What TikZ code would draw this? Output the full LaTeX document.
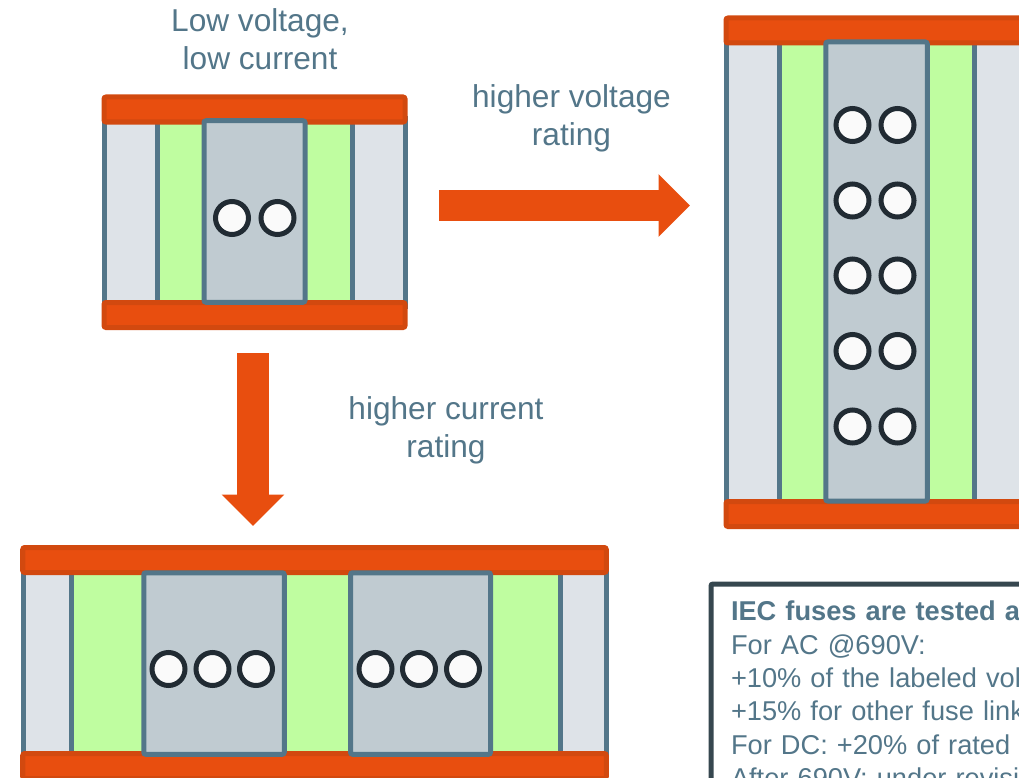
\documentclass[tikz,border=0pt]{standalone}
\usepackage{fontspec}
\setmainfont{Liberation Sans}
\usetikzlibrary{arrows.meta}

\definecolor{capfill}{HTML}{E84E0F}
\definecolor{capline}{HTML}{D2490F}
\definecolor{slate}{HTML}{537689}
\definecolor{sidegrey}{HTML}{DEE3E8}
\definecolor{coregrey}{HTML}{C0CBD1}
\definecolor{sandgreen}{HTML}{BFFDA0}
\definecolor{holeline}{HTML}{212B33}
\definecolor{holefill}{HTML}{FAFAFA}
\definecolor{noteline}{HTML}{36474F}

\begin{document}
\begin{tikzpicture}[
    ratearrow/.style={-{Triangle[length=0.63cm, width=1.22cm]}, line width=0.63cm, capfill},
    label/.style={text=slate, align=center, font=\fontsize{18}{21.6}\selectfont},
    capbar/.style={rectangle, draw=capline, fill=capfill, line width=0.1cm, inner sep=0pt, minimum height=0.5cm, rounded corners=0.04cm},
    sidebox/.style={rectangle, draw=slate, fill=sidegrey, line width=0.1cm, inner sep=0pt, minimum width=1.06cm},
    sandbox/.style={rectangle, fill=sandgreen, inner sep=0pt},
    corebox/.style={rectangle, draw=slate, fill=coregrey, line width=0.1cm, inner sep=0pt, rounded corners=0.04cm},
    hole/.style={circle, draw=holeline, fill=holefill, line width=0.1cm, inner sep=0pt, minimum size=0.66cm},
    notebox/.style={rectangle, draw=noteline, line width=0.1cm, rounded corners=0.04cm, anchor=north west, outer sep=0pt, text=slate, align=left, text width=8cm, inner xsep=0.4cm, inner ysep=0.34cm, font=\fontsize{15.5}{19}\selectfont}
]
\clip[use as bounding box] (0, 0) rectangle (20.38, -15.56);

% Low voltage, low current fuse
\node[sandbox, minimum width=3.9cm, minimum height=3.76cm] (sandA) at (5.09, -4.24) {};
\node[sidebox, minimum height=3.76cm] (leftA) at (2.61, -4.24) {};
\node[sidebox, minimum height=3.76cm] (rightA) at (7.57, -4.24) {};
\node[capbar, minimum width=6.02cm] (topA) at (5.09, -2.19) {};
\node[capbar, minimum width=6.02cm] (botA) at (5.09, -6.3) {};
\node[corebox, minimum width=2.02cm, minimum height=3.63cm] (coreA) at (5.09, -4.23) {};
\node[hole] (a1) at (4.64, -4.36) {};
\node[hole] (a2) at (5.55, -4.36) {};

% Higher voltage fuse
\node[sandbox, minimum width=3.92cm, minimum height=9.28cm] (sandB) at (17.53, -5.44) {};
\node[sidebox, minimum height=9.28cm] (leftB) at (15.05, -5.44) {};
\node[sidebox, minimum height=9.28cm] (rightB) at (20.01, -5.44) {};
\node[capbar, minimum width=6.02cm] (topB) at (17.53, -0.61) {};
\node[capbar, minimum width=6.02cm] (botB) at (17.53, -10.28) {};
\node[corebox, minimum width=2.03cm, minimum height=9.18cm] (coreB) at (17.53, -5.43) {};
\node[hole] (b11) at (17.05, -2.5) {};
\node[hole] (b12) at (17.95, -2.5) {};
\node[hole] (b21) at (17.05, -4.01) {};
\node[hole] (b22) at (17.95, -4.01) {};
\node[hole] (b31) at (17.05, -5.51) {};
\node[hole] (b32) at (17.95, -5.51) {};
\node[hole] (b41) at (17.05, -7.02) {};
\node[hole] (b42) at (17.95, -7.02) {};
\node[hole] (b51) at (17.05, -8.53) {};
\node[hole] (b52) at (17.95, -8.53) {};

% Higher current fuse
\node[sandbox, minimum width=9.8cm, minimum height=3.72cm] (sandC) at (6.32, -13.26) {};
\node[sidebox, minimum height=3.72cm, minimum width=0.95cm] (leftC) at (0.95, -13.26) {};
\node[sidebox, minimum height=3.72cm, minimum width=0.906cm] (rightC) at (11.67, -13.26) {};
\node[capbar, minimum width=11.67cm] (topC) at (6.29, -11.2) {};
\node[capbar, minimum width=11.67cm] (botC) at (6.29, -15.32) {};
\node[corebox, minimum width=2.81cm, minimum height=3.63cm] (coreC1) at (4.28, -13.27) {};
\node[corebox, minimum width=2.8cm, minimum height=3.63cm] (coreC2) at (8.41, -13.27) {};
\node[hole] (c11) at (3.37, -13.38) {};
\node[hole] (c12) at (4.25, -13.38) {};
\node[hole] (c13) at (5.12, -13.38) {};
\node[hole] (c21) at (7.51, -13.38) {};
\node[hole] (c22) at (8.38, -13.38) {};
\node[hole] (c23) at (9.26, -13.38) {};

% Arrows
\coordinate (voltstart) at (8.78, -4.11);
\coordinate (voltend) at (13.8, -4.11);
\coordinate (currstart) at (5.06, -7.06);
\coordinate (currend) at (5.06, -10.52);
\draw[ratearrow] (voltstart) -- (voltend);
\draw[ratearrow] (currstart) -- (currend);

% Labels
\node[label] (lowlabel) at (5.2, -0.79) {Low voltage,\\low current};
\node[label] (voltlabel) at (11.43, -2.36) {higher voltage\\rating};
\node[label] (currlabel) at (8.92, -8.61) {higher current\\rating};

% Note
\node[notebox] (note) at (14.22, -11.68) {\textbf{IEC fuses are tested a}\\For AC @690V:\\+10\% of the labeled vol\\+15\% for other fuse link\\For DC: +20\% of rated v\\After 690V: under revisi};

\end{tikzpicture}
\end{document}
